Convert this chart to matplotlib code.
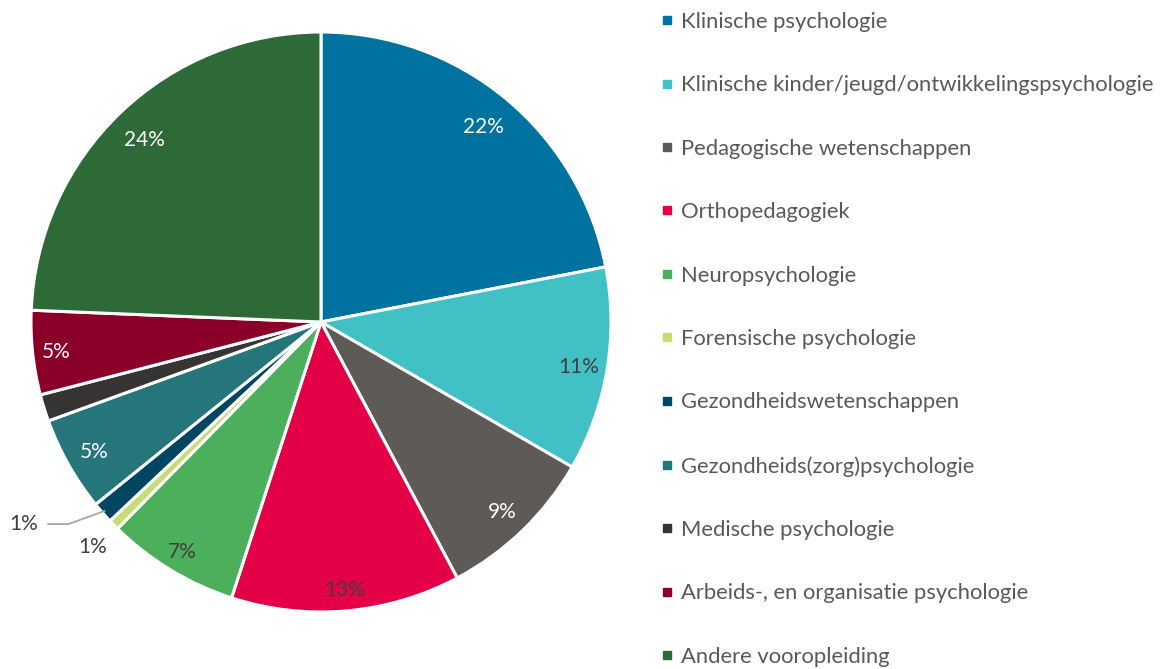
import numpy as np
import matplotlib
matplotlib.use("Agg")
import matplotlib.pyplot as plt
from matplotlib.lines import Line2D

plt.rcParams['font.family'] = ['Lato', 'DejaVu Sans']

categories = [
    "Klinische psychologie",
    "Klinische kinder/jeugd/ontwikkelingspsychologie",
    "Pedagogische wetenschappen",
    "Orthopedagogiek",
    "Neuropsychologie",
    "Forensische psychologie",
    "Gezondheidswetenschappen",
    "Gezondheids(zorg)psychologie",
    "Medische psychologie",
    "Arbeids-, en organisatie psychologie",
    "Andere vooropleiding",
]
shares = [22.0, 11.4, 8.9, 12.8, 7.4, 0.6, 1.2, 5.3, 1.5, 4.7, 24.4]
colors = ['#00729F', '#41C0C6', '#5E5A57', '#E40046', '#4CAF5C', '#C5DD75',
          '#004660', '#24767A', '#363534', '#8B0029', '#2D6A38']

# label styling per slice: text colour, radius, shown or not
lbl_col = ['white', '#404040', 'white', '#404040', '#404040', '#404040',
           '#404040', 'white', 'white', 'white', 'white']
lbl_rad = [0.88, 0.9, 0.9, 0.92, 0.92, 1.1, 1.23, 0.9, 0.9, 0.92, 0.88]
lbl_show = [True] * 8 + [False] + [True] * 2

W, H = 1171, 669
fig = plt.figure(figsize=(W / 100, H / 100), dpi=100)
cx, cy, R = 321, 322, 290
ax = fig.add_axes([(cx - R) / W, (H - cy - R) / H, 2 * R / W, 2 * R / H])

wedges, _ = ax.pie(shares, colors=colors, startangle=90, counterclock=False,
                   radius=1, wedgeprops=dict(edgecolor='white', linewidth=2.2))
ax.set_xlim(-1, 1)
ax.set_ylim(-1, 1)
ax.set_aspect('equal')
ax.axis('off')

total = sum(shares)
for i, w in enumerate(wedges):
    if not lbl_show[i]:
        continue
    mid = np.deg2rad((w.theta1 + w.theta2) / 2)
    txt = "%d%%" % round(shares[i] / total * 100)
    r = lbl_rad[i]
    x, y = r * np.cos(mid), r * np.sin(mid)
    if categories[i] == "Gezondheidswetenschappen":
        # label outside with leader line
        ex, ey = 0.99 * np.cos(mid), 0.99 * np.sin(mid)
        ax.annotate(txt, xy=(ex, ey), xytext=(-0.975, -0.69),
                    ha='right', va='center_baseline', fontsize=15, color='#404040',
                    annotation_clip=False,
                    arrowprops=dict(arrowstyle='-', color='#A6A6A6', lw=1.3,
                                    shrinkA=5, shrinkB=0,
                                    connectionstyle='angle,angleA=0,angleB=20,rad=0'))
        continue
    ax.text(x, y, txt, ha='center', va='center_baseline', fontsize=15,
            color=lbl_col[i], clip_on=False)

handles = [Line2D([0], [0], marker='s', linestyle='none', markersize=6,
                  markerfacecolor=c, markeredgecolor=c) for c in colors]
fig.legend(handles, categories, loc='upper left', bbox_to_anchor=(652 / W, 1 - 3 / H),
           frameon=False, fontsize=15.8, labelcolor='#595959', handlelength=0.6,
           handletextpad=0.3, labelspacing=1.98, borderaxespad=0)

fig.savefig('out.png', dpi=100)
